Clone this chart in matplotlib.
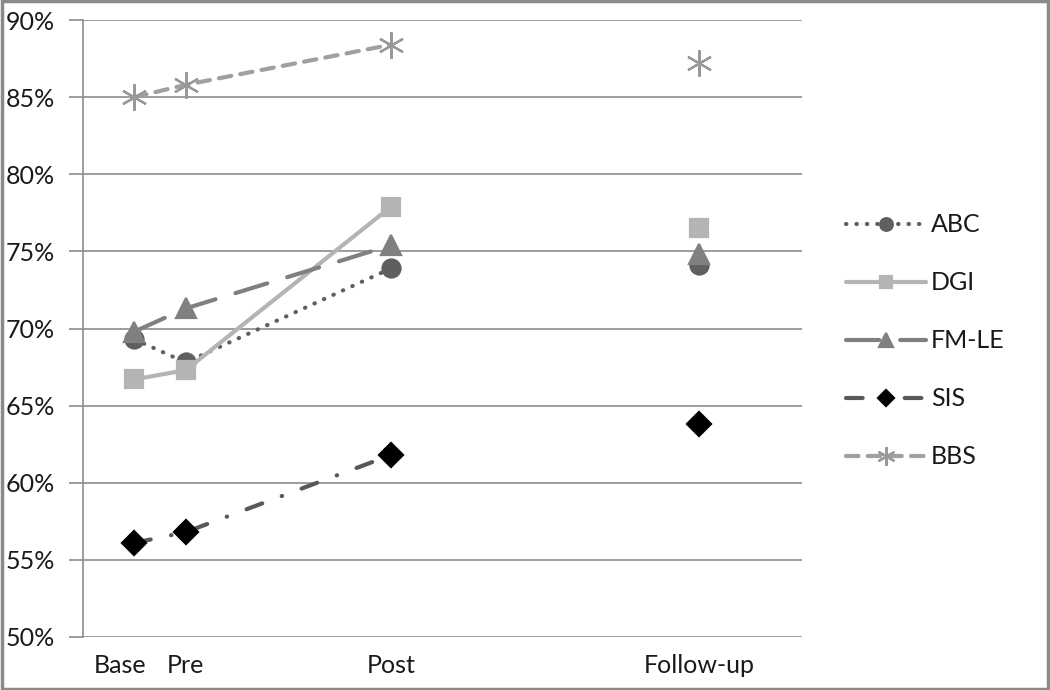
import numpy as np
import matplotlib.pyplot as plt
import matplotlib.patches as patches
import matplotlib.transforms as mtransforms

plt.rcParams['font.family'] = ['Lato', 'DejaVu Sans']

# time points (spacing)
x_pos = [1, 2, 6, 12]
x_labels = ['Base', 'Pre', 'Post', 'Follow-up']

abc = [69.3, 67.8, 73.9, 74.1]
dgi = [66.7, 67.3, 77.9, 76.5]
fmle = [69.8, 71.3, 75.4, 74.8]
sis = [56.1, 56.8, 61.8, 63.8]
bbs = [85.0, 85.8, 88.4, 87.2]

series = [
    ('ABC', abc, dict(color='#5f5f5f', ls=(0, (0.1, 2.4)), marker='o', ms=13, mfc='#5f5f5f', mec='#5f5f5f')),
    ('DGI', dgi, dict(color='#b4b4b4', ls='-', marker='s', ms=13, mfc='#b4b4b4', mec='#b4b4b4')),
    ('FM-LE', fmle, dict(color='#808080', ls=(0, (8, 5)), marker='^', ms=14, mfc='#808080', mec='#808080')),
    ('SIS', sis, dict(color='#595959', ls=(0, (4, 5, 0.1, 5)), marker='D', ms=12, mfc='black', mec='black')),
    ('BBS', bbs, dict(color='#a0a0a0', ls=(0, (3, 2.2)), marker=(6, 2, 0), ms=19, mfc='#999999', mec='#999999')),
]

fig = plt.figure(figsize=(10.5, 6.9), dpi=100)
ax = fig.add_axes([83 / 1050, 1 - 637 / 690, (802 - 83) / 1050, (637 - 20) / 690])

for name, vals, st in series:
    ax.plot(x_pos[:3], vals[:3], lw=3, dash_capstyle='round', solid_capstyle='round',
            mew=1.6, label=name, **st)
    ax.plot(x_pos[3:], vals[3:], lw=0, marker=st['marker'], ms=st['ms'],
            mfc=st['mfc'], mec=st['mec'], mew=1.6)

ax.set_xlim(0, 14)
ax.set_ylim(50, 90)
ax.set_yticks(np.arange(50, 91, 5))
ax.set_yticklabels([f'{v}%' for v in range(50, 91, 5)])
ax.set_xticks(x_pos)
ax.set_xticklabels(x_labels)

ax.yaxis.grid(True, color='#8c8c8c', lw=1.2)
ax.set_axisbelow(True)
for s in ['top', 'right', 'bottom']:
    ax.spines[s].set_visible(False)
ax.spines['left'].set_color('#8c8c8c')
ax.spines['left'].set_linewidth(1.2)
ax.tick_params(axis='y', length=10, color='#8c8c8c', width=1.2, labelsize=18, pad=10, labelcolor='#1a1a1a')
ax.tick_params(axis='x', length=0, labelsize=18, pad=12, labelcolor='#1a1a1a')

# "Base" label sits a little left of its point
lbl = ax.get_xticklabels()[0]
lbl.set_transform(lbl.get_transform() + mtransforms.ScaledTranslation(-0.14, 0, fig.dpi_scale_trans))

leg = ax.legend(loc='center left', bbox_to_anchor=(1.061, 0.48), frameon=False, fontsize=18,
                handlelength=3.2, labelspacing=1.4, markerscale=0.7, handletextpad=0.2,
                borderpad=0, borderaxespad=0)
for t in leg.get_texts():
    t.set_color('#1a1a1a')

fig.patches.append(patches.Rectangle((0.0015, 0.002), 0.997, 0.996, transform=fig.transFigure,
                                     fill=False, ec='#8a8a8a', lw=2.5))

fig.savefig('out.png', dpi=100)
